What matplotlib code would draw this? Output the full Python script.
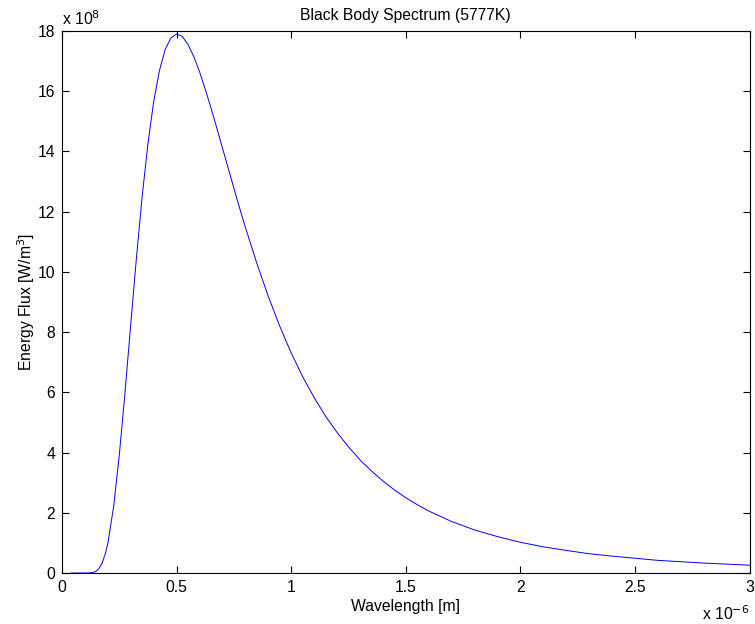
import numpy as np
import matplotlib
matplotlib.use("Agg")
import matplotlib.pyplot as plt

# wavelength in units of 1e-6 m, flux in units of 1e8
wavelength = [0.04, 0.08, 0.10, 0.12, 0.14, 0.15, 0.16, 0.175, 0.19, 0.20,
              0.225, 0.25, 0.275, 0.30, 0.325, 0.35, 0.375, 0.40, 0.425,
              0.45, 0.475, 0.50, 0.525, 0.55, 0.575, 0.60, 0.625, 0.65,
              0.675, 0.70, 0.725, 0.75, 0.775, 0.80, 0.85, 0.90, 0.95,
              1.0, 1.05, 1.1, 1.15, 1.2, 1.25, 1.3, 1.35, 1.4, 1.45, 1.5,
              1.55, 1.6, 1.7, 1.8, 1.9, 2.0, 2.1, 2.2, 2.3, 2.4, 2.5,
              2.6, 2.8, 3.0]
flux = [0.0, 0.0, 0.0001, 0.003, 0.028, 0.066, 0.134, 0.325, 0.663, 0.988,
        2.19, 3.91, 6.00, 8.26, 10.49, 12.52, 14.26, 15.65, 16.68,
        17.38, 17.77, 17.90, 17.82, 17.55, 17.15, 16.65, 16.07, 15.45,
        14.79, 14.12, 13.45, 12.78, 12.12, 11.49, 10.29, 9.19, 8.20,
        7.31, 6.52, 5.83, 5.21, 4.67, 4.19, 3.76, 3.39, 3.06, 2.76, 2.50,
        2.27, 2.06, 1.71, 1.43, 1.21, 1.02, 0.87, 0.75, 0.64, 0.56, 0.49,
        0.42, 0.33, 0.26]

xticks = [0, 0.5, 1, 1.5, 2, 2.5, 3]
xticklabels = ["0", "0.5", "1", "1.5", "2", "2.5", "3"]
yticks = [0, 2, 4, 6, 8, 10, 12, 14, 16, 18]

plt.rcParams['font.family'] = ['Liberation Sans', 'DejaVu Sans']
plt.rcParams['font.size'] = 11.3

fig = plt.figure(figsize=(7.55, 6.24), dpi=100)
ax = fig.add_axes([62 / 755, 51 / 624, 687.5 / 755, 542 / 624])

ax.plot(wavelength, flux, color=(0, 0, 1), linewidth=0.7)

ax.set_xlim(0, 3)
ax.set_ylim(0, 18)
ax.set_xticks(xticks)
ax.set_xticklabels(xticklabels)
ax.set_yticks(yticks)
ax.set_yticklabels([str(t) for t in yticks])
ax.tick_params(direction='in', length=5, width=0.8, top=True, right=True,
               colors='black', pad=5)
for s in ax.spines.values():
    s.set_linewidth(0.8)

ax.set_title("Black Body Spectrum (5777K)", fontsize=11.3, pad=8)
ax.set_xlabel("Wavelength [m]", labelpad=3)
ax.set_ylabel("Energy Flux [W/m$^3$]", labelpad=0)

ax.text(0.0, 1.006, "x 10$^{8}$", transform=ax.transAxes,
        ha='left', va='bottom', fontsize=11.3)
ax.text(1.0, -0.058, "x 10$^{-6}$", transform=ax.transAxes,
        ha='right', va='top', fontsize=11.3)

fig.savefig("out.png", dpi=100)
